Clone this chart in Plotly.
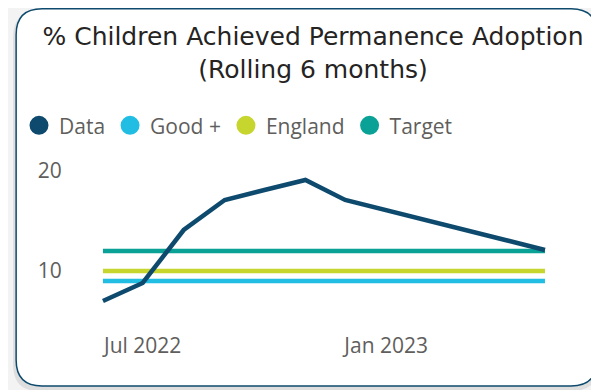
import plotly.graph_objects as go

# ---- data ----
months = ["2022-06-01", "2022-07-01", "2022-08-01", "2022-09-01", "2022-10-01", "2022-11-01",
          "2022-12-01", "2023-01-01", "2023-02-01", "2023-03-01", "2023-04-01", "2023-05-01"]
data_vals = [7.0, 8.8, 14.1, 17.1, 18.1, 19.1, 17.1, 16.1, 15.1, 14.1, 13.1, 12.1]
good_plus = [9.0] * len(months)
england = [10.0] * len(months)
target = [12.0] * len(months)
tick_vals = ["2022-07-01", "2023-01-01"]
tick_text = ["Jul 2022", "Jan 2023"]
y_ticks = [10, 20]

series = [
    ("Data", data_vals, "#0E4A6D"),
    ("Good +", good_plus, "#21BDE2"),
    ("England", england, "#C7D52F"),
    ("Target", target, "#0AA197"),
]

# page body has an 8px margin; work in figure coordinates
W, H = 591, 382
L, R, T, B = 72, 562, 152, 302  # plot area in pixels

fig = go.Figure()
for name, vals, col in [series[3], series[2], series[1], series[0]]:
    fig.add_trace(go.Scatter(x=months, y=vals, mode="lines", name=name,
                             line=dict(color=col, width=4.5), showlegend=False,
                             hoverinfo="skip"))
for name, vals, col in series:
    fig.add_trace(go.Scatter(x=[None], y=[None], mode="markers", name=name,
                             marker=dict(color=col, size=16, symbol="circle",
                                         line=dict(color=col, width=3))))

def px2x(p):
    return (p - L) / (R - L)

def px2y(p):
    return (B - p) / (B - T)

def rounded(x0, y0, x1, y1, r):
    X0, X1 = px2x(x0), px2x(x1)
    Y0, Y1 = px2y(y0), px2y(y1)
    rx = r / (R - L)
    ry = r / (B - T)
    return (f"M {X0+rx},{Y0} L {X1-rx},{Y0} Q {X1},{Y0} {X1},{Y0-ry} "
            f"L {X1},{Y1+ry} Q {X1},{Y1} {X1-rx},{Y1} "
            f"L {X0+rx},{Y1} Q {X0},{Y1} {X0},{Y1+ry} "
            f"L {X0},{Y0-ry} Q {X0},{Y0} {X0+rx},{Y0} Z")

shapes = [
    dict(type="path", xref="paper", yref="paper", layer="below",
         path=rounded(4, 3, 590, 383, 26), fillcolor="#d0d0d0", line=dict(width=0), opacity=0.6),
    dict(type="path", xref="paper", yref="paper", layer="below",
         path=rounded(7, 0.8, 589, 378, 26), fillcolor="white",
         line=dict(color="#0E4A6D", width=1.5)),
]

fig.update_layout(
    width=W, height=H,
    margin=dict(l=L, r=W - R, t=T, b=H - B),
    paper_bgcolor="#f3f3f3",
    plot_bgcolor="rgba(0,0,0,0)",
    shapes=shapes,
    title=dict(text="% Children Achieved Permanence Adoption<br>(Rolling 6 months)",
               x=305 / W, xanchor="center", xref="container",
               y=1 - 37 / H, yanchor="middle", yref="container",
               font=dict(family="DejaVu Sans", size=25, color="#252423")),
    legend=dict(orientation="h", x=px2x(11), xanchor="left", y=px2y(117.7), yanchor="middle",
                xref="paper", yref="paper",
                font=dict(family="Open Sans", size=21, color="#605E5C"),
                itemwidth=30, tracegroupgap=0, bgcolor="rgba(0,0,0,0)"),
    xaxis=dict(type="date", range=["2022-05-15 10:00", "2023-05-19 22:00"],
               tickvals=tick_vals, ticktext=tick_text, showgrid=False, zeroline=False,
               showline=False, ticks="outside", ticklen=17, tickcolor="rgba(0,0,0,0)",
               tickfont=dict(family="Open Sans", size=21, color="#605E5C")),
    yaxis=dict(range=[6.1, 21.1], tickvals=y_ticks, showgrid=False, zeroline=False,
               showline=False, ticks="outside", ticklen=14, tickcolor="rgba(0,0,0,0)",
               tickfont=dict(family="Open Sans", size=21, color="#605E5C")),
    showlegend=True,
)

fig.write_html("out.html")
